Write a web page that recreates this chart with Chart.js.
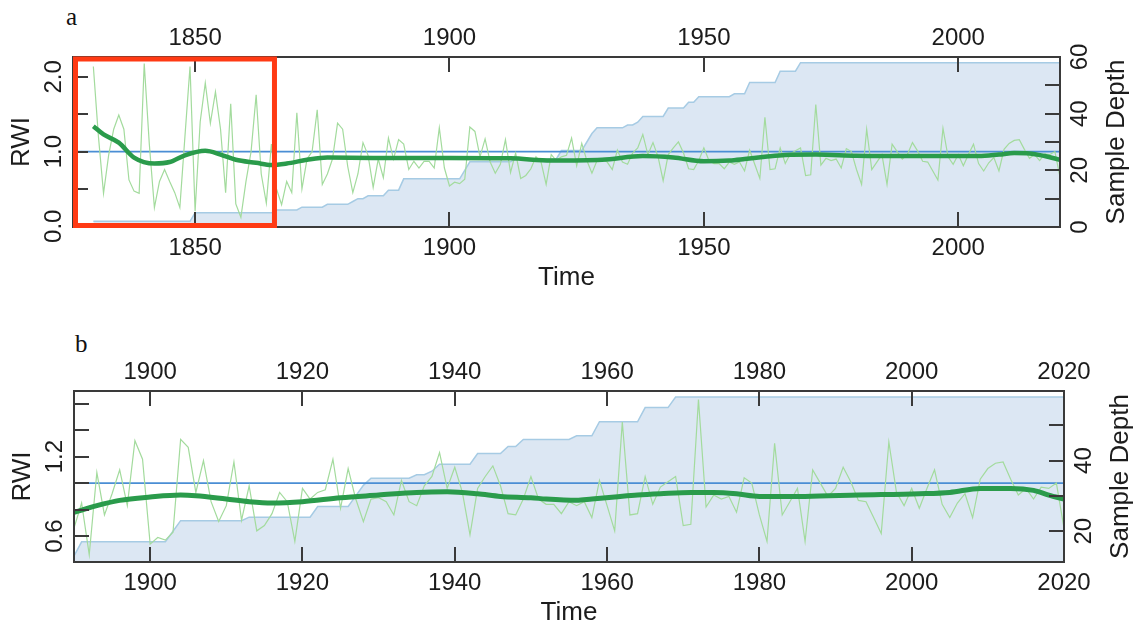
<!DOCTYPE html>
<html>
<head>
<meta charset="utf-8">
<script src="https://cdn.jsdelivr.net/npm/chart.js@4.4.1/dist/chart.umd.min.js"></script>
<style>
  body { margin: 0; background: #fff; width: 1136px; height: 625px; overflow: hidden; position: relative; }
  canvas { position: absolute; left: 0; }
  #chartA { top: 0; }
  #chartB { top: 312px; }
  .tag { position: absolute; font-family: "Liberation Serif", "DejaVu Serif", serif; font-size: 25px; color: #111; }
</style>
</head>
<body>
<div class="tag" style="left:66px; top:3px;">a</div>
<div class="tag" style="left:75px; top:330px;">b</div>
<canvas id="chartA" width="1136" height="312"></canvas>
<canvas id="chartB" width="1136" height="313"></canvas>
<script>
/*************** data ***************/
// ring width index, panel a, 1830-1899 (from 1900 on it is the same curve as panel b)
const rwiStartA = 1830;
const rwiEarlyA = [
  2.14, 1.2, 0.44, 0.95, 1.3, 1.49, 1.3, 0.62, 0.47, 0.44,
  2.18, 1.1, 0.25, 0.6, 0.76, 0.6, 0.45, 0.25, 1.2, 2.14,
  0.2, 1.4, 1.92, 1.38, 1.8, 1.3, 0.45, 1.64, 0.3, 0.12,
  0.6, 1.0, 1.76, 0.7, 0.31, 1.1, 0.5, 0.29, 0.6, 0.45,
  1.52, 0.5, 0.9, 1.0, 1.56, 0.56, 0.7, 0.9, 1.38, 1.3,
  0.8, 0.45, 0.7, 1.12, 0.95, 0.52, 0.9, 0.65, 1.18, 0.9,
  1.16, 1.1, 0.76, 0.87, 0.78, 0.87, 0.87, 0.78, 1.32, 0.78
];

// ring width index, panel b, 1890-2020
const rwiStartB = 1890;
const rwiB = [
  0.66, 0.85, 0.46, 1.08, 0.76, 0.92, 1.10, 0.83, 1.32, 1.18,
  0.54, 0.59, 0.57, 0.63, 1.33, 1.27, 0.93, 1.17, 0.86, 0.71,
  0.83, 1.16, 0.72, 0.98, 0.64, 0.68, 0.77, 0.93, 0.86, 0.56,
  0.96, 0.88, 0.93, 0.95, 1.18, 0.81, 1.11, 0.88, 0.71, 0.88,
  0.89, 0.86, 0.76, 1.02, 0.86, 0.83, 0.98, 1.05, 1.23, 0.96,
  1.12, 0.93, 0.61, 0.96, 1.05, 1.13, 0.98, 0.77, 0.76, 0.88,
  1.05, 0.88, 0.84, 0.84, 0.77, 0.86, 0.83, 0.86, 0.74, 1.02,
  0.83, 0.64, 1.46, 0.76, 0.77, 1.05, 0.84, 0.97, 1.01, 1.05,
  0.68, 0.69, 1.63, 0.82, 0.91, 0.88, 0.90, 0.78, 1.04, 1.00,
  0.76, 0.56, 1.30, 0.76, 0.86, 0.96, 0.56, 1.10, 1.00, 0.90,
  0.96, 1.12, 1.01, 0.87, 0.86, 0.74, 0.62, 1.31, 0.93, 0.83,
  0.96, 0.81, 0.96, 1.10, 0.84, 0.74, 0.85, 0.92, 0.74, 1.03,
  1.11, 1.15, 1.16, 1.03, 0.91, 0.96, 0.88, 0.97, 0.96, 1.00,
  0.66
];

// smoothing spline, read at knots
const splineYearsA = [1830, 1832, 1835, 1838, 1842, 1845, 1848, 1852, 1855, 1858, 1862, 1865, 1868, 1872, 1876, 1885, 1900, 1912,
  1920, 1930, 1938, 1944, 1950, 1955, 1958, 1962, 1966, 1972, 1980, 1990, 2004, 2008, 2011, 2014, 2017, 2020];
const splineA = [1.34, 1.23, 1.12, 0.92, 0.84, 0.86, 0.95, 1.01, 0.96, 0.89, 0.85, 0.82, 0.84, 0.89, 0.92, 0.915, 0.915, 0.91,
  0.88, 0.89, 0.94, 0.92, 0.87, 0.88, 0.9, 0.93, 0.955, 0.96, 0.945, 0.94, 0.94, 0.96, 0.98, 0.975, 0.94, 0.89];

const splineYearsB = [1890, 1893, 1896, 1900, 1904, 1906, 1910, 1913, 1916, 1920, 1925, 1930, 1935, 1939, 1943, 1946, 1950,
  1952, 1956, 1958, 1961, 1964, 1967, 1971, 1974, 1977, 1980, 1986, 1993, 2001, 2005, 2009, 2013, 2016, 2018, 2020];
const splineB = [0.78, 0.83, 0.87, 0.895, 0.91, 0.905, 0.88, 0.86, 0.85, 0.86, 0.89, 0.91, 0.93, 0.935, 0.92, 0.90, 0.89,
  0.88, 0.87, 0.88, 0.895, 0.91, 0.92, 0.93, 0.93, 0.92, 0.90, 0.90, 0.91, 0.92, 0.93, 0.96, 0.96, 0.945, 0.91, 0.88];

// sample depth, value holds from each year until the next one
const depthYears = [1830, 1850, 1866, 1871, 1876, 1881, 1882, 1884, 1888, 1891, 1903, 1904, 1913, 1922, 1927, 1928, 1929,
  1935, 1937, 1938, 1943, 1947, 1949, 1956, 1959, 1965, 1969, 2020];
const depth = [2, 5, 6, 7, 8, 9, 10, 11, 13, 17, 20, 23, 24, 27, 30, 33, 35,
  36, 37, 39, 42, 44, 46, 47, 51, 55, 58, 58];

// axis ticks
const xTicksA = [1850, 1900, 1950, 2000];
const rwiTicksA = [0, 0.5, 1.0, 1.5, 2.0];
const rwiLabelsA = ['0.0', '', '1.0', '', '2.0'];
const depthTicksA = [0, 10, 20, 30, 40, 50, 60];
const depthLabelsA = ['0', '', '20', '', '40', '', '60'];

const xTicksB = [1900, 1920, 1940, 1960, 1980, 2000, 2020];
const rwiTicksB = [0.6, 0.8, 1.0, 1.2, 1.4, 1.6];
const rwiLabelsB = ['0.6', '', '', '1.2', '', ''];
const depthTicksB = [20, 30, 40, 50];
const depthLabelsB = ['20', '', '40', ''];

const meanLine = 1.0;

/*************** helpers ***************/
const pts = (xs, ys) => ys.map((v, i) => ({ x: xs[i], y: v }));
const yearly = (start, vals) => vals.map((v, i) => ({ x: start + i, y: v }));

// yearly polygon of the depth: old value kept to the year before each change
function depthPoly() {
  const out = [{ x: depthYears[0], y: depth[0] }];
  for (let i = 1; i < depth.length; i++) {
    if (depthYears[i] - 1 > depthYears[i - 1]) out.push({ x: depthYears[i] - 1, y: depth[i - 1] });
    out.push({ x: depthYears[i], y: depth[i] });
  }
  return out;
}

const rwiA = rwiEarlyA.concat(rwiB.slice(1900 - rwiStartB));

// frame, inward ticks and rotated labels, drawn from the chart's own scales
const frameAxes = {
  id: 'frameAxes',
  afterDraw(chart, args, o) {
    const { ctx, chartArea: a, scales } = chart;
    const T = 15;
    ctx.save();
    ctx.strokeStyle = '#3a3a3a';
    ctx.lineWidth = 2;
    ctx.strokeRect(a.left, a.top, a.right - a.left, a.bottom - a.top);

    const seg = (x1, y1, x2, y2) => { ctx.beginPath(); ctx.moveTo(x1, y1); ctx.lineTo(x2, y2); ctx.stroke(); };
    o.xTicks.forEach(v => {
      const px = Math.round(scales.x.getPixelForValue(v));
      seg(px, a.top, px, a.top + T);
      seg(px, a.bottom, px, a.bottom - T);
    });
    o.yTicks.forEach(v => {
      const py = Math.round(scales.y.getPixelForValue(v));
      seg(a.left, py, a.left + T, py);
    });
    o.y2Ticks.forEach(v => {
      const py = Math.round(scales.y2.getPixelForValue(v));
      seg(a.right, py, a.right - T, py);
    });

    ctx.fillStyle = '#1c1c1c';
    ctx.textAlign = 'center';
    ctx.textBaseline = 'middle';
    ctx.font = '24px "Liberation Sans", Arial, sans-serif';
    o.xTicks.forEach(v => {
      const px = scales.x.getPixelForValue(v);
      ctx.fillText(String(v), px, a.top - 19);
      ctx.fillText(String(v), px, a.bottom + 21);
    });
    const vtext = (txt, cx, cy) => {
      ctx.save(); ctx.translate(cx, cy); ctx.rotate(-Math.PI / 2); ctx.fillText(txt, 0, 0); ctx.restore();
    };
    o.yTicks.forEach((v, i) => { if (o.yLabels[i]) vtext(o.yLabels[i], a.left - 19, scales.y.getPixelForValue(v)); });
    o.y2Ticks.forEach((v, i) => { if (o.y2Labels[i]) vtext(o.y2Labels[i], a.right + 20, scales.y2.getPixelForValue(v)); });

    ctx.font = '26px "Liberation Sans", Arial, sans-serif';
    const midY = (a.top + a.bottom) / 2;
    ctx.fillText('Time', (a.left + a.right) / 2, a.bottom + 51);
    vtext('RWI', a.left - 51, midY);
    vtext('Sample Depth', a.right + 57, midY);

    if (o.boxTo) {
      ctx.strokeStyle = '#ff3a14';
      ctx.lineWidth = 5;
      const bx = scales.x.getPixelForValue(o.boxTo);
      ctx.strokeRect(a.left + 2.5, a.top + 2, bx - a.left - 2.5, a.bottom - a.top - 3.5);
    }
    ctx.restore();
  }
};

function makeChart(id, cfg) {
  return new Chart(document.getElementById(id), {
    type: 'line',
    data: {
      datasets: [
        { data: cfg.spline, borderColor: '#2a9b4b', borderWidth: cfg.splineWidth, cubicInterpolationMode: 'monotone',
          yAxisID: 'y', order: 0, clip: 0 },
        { data: cfg.rwi, borderColor: '#a3db9d', borderWidth: 1.2, yAxisID: 'y', order: 1, clip: 0 },
        { data: [{ x: cfg.xMin, y: meanLine }, { x: cfg.xMax, y: meanLine }], borderColor: '#4a8ed4', borderWidth: 1.8,
          yAxisID: 'y', order: 2, clip: 0 },
        { data: depthPoly(), fill: 'start', backgroundColor: '#dce7f3',
          borderColor: '#a6cbe4', borderWidth: 1.5, yAxisID: 'y2', order: 3, clip: 0 }
      ]
    },
    options: {
      responsive: false,
      animation: false,
      devicePixelRatio: 1,
      layout: { padding: cfg.padding },
      elements: { point: { radius: 0 }, line: { tension: 0 } },
      plugins: { legend: { display: false }, tooltip: { enabled: false }, frameAxes: cfg.axes },
      scales: {
        x: { type: 'linear', min: cfg.xMin, max: cfg.xMax, display: false },
        y: { type: 'linear', min: cfg.yMin, max: cfg.yMax, display: false },
        y2: { type: 'linear', position: 'right', min: cfg.dMin, max: cfg.dMax, display: false }
      }
    },
    plugins: [frameAxes]
  });
}

/*************** panel a ***************/
makeChart('chartA', {
  spline: pts(splineYearsA, splineA), splineWidth: 4.5,
  rwi: yearly(rwiStartA, rwiA),
  xMin: 1826, xMax: 2020, yMin: -0.01, yMax: 2.267, dMin: 0, dMax: 60,
  padding: { left: 73, right: 76, top: 57, bottom: 85 },
  axes: { xTicks: xTicksA, yTicks: rwiTicksA, yLabels: rwiLabelsA, y2Ticks: depthTicksA, y2Labels: depthLabelsA, boxTo: 1865.6 }
});

/*************** panel b ***************/
makeChart('chartB', {
  spline: pts(splineYearsB, splineB), splineWidth: 5,
  rwi: yearly(rwiStartB, rwiB),
  xMin: 1890, xMax: 2020, yMin: 0.405, yMax: 1.695, dMin: 11.3, dMax: 59.7,
  padding: { left: 74, right: 72, top: 79, bottom: 63 },
  axes: { xTicks: xTicksB, yTicks: rwiTicksB, yLabels: rwiLabelsB, y2Ticks: depthTicksB, y2Labels: depthLabelsB }
});
</script>
</body>
</html>
